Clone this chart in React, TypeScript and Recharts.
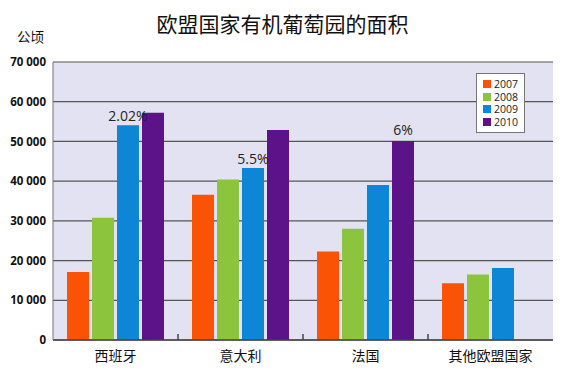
import { BarChart, Bar, XAxis, YAxis, CartesianGrid, Legend, LabelList } from 'recharts';

const countries = ['西班牙', '意大利', '法国', '其他欧盟国家'];
const y2007 = [17100, 36600, 22300, 14300];
const y2008 = [30800, 40400, 28000, 16500];
const y2009 = [54100, 43300, 39000, 18100];
const y2010 = [57200, 52900, 50100, null];
const growth2009 = ['2.02%', '5.5%', '', ''];
const growth2010 = ['', '', '6%', ''];
const yTicks = [0, 10000, 20000, 30000, 40000, 50000, 60000, 70000];

const years = [
  { key: 'y2007', name: '2007', color: '#FA5305' },
  { key: 'y2008', name: '2008', color: '#8CC43E' },
  { key: 'y2009', name: '2009', color: '#0C86D5' },
  { key: 'y2010', name: '2010', color: '#5C1289' },
];

const data = countries.map((c, i) => ({
  country: c,
  y2007: y2007[i],
  y2008: y2008[i],
  y2009: y2009[i],
  y2010: y2010[i],
  g2009: growth2009[i],
  g2010: growth2010[i],
}));

const cjk = '"Noto Sans CJK SC", "Noto Sans", sans-serif';
const latin = '"Open Sans", "Noto Sans", sans-serif';

const fmt = (v: number) => (v === 0 ? '0' : v.toLocaleString('en-US').replace(',', ' '));

const CountryTick = ({ x, y, payload, index }: any) => {
  const half = payload.offset || 0;
  return (
    <g>
      {index > 0 && <line x1={x - half} x2={x - half} y1={y - 14} y2={y - 8} stroke="#444" strokeWidth={1.5} />}
      <text x={x} y={y + 13} textAnchor="middle" fontSize={14} fill="#111" fontFamily={cjk}>
        {payload.value}
      </text>
    </g>
  );
};

const LegendBox = () => (
  <div
    style={{
      background: '#fff',
      border: '1px solid #777',
      padding: '4px 6px 4px 6px',
      fontFamily: latin,
      fontSize: 10.5,
      lineHeight: '12.5px',
      color: '#222',
    }}
  >
    {years.map((y) => (
      <div key={y.key} style={{ display: 'flex', alignItems: 'center', height: 12.5 }}>
        <span style={{ width: 8, height: 8, background: y.color, marginRight: 3, display: 'inline-block' }} />
        {y.name}
      </div>
    ))}
  </div>
);

const App = () => {
  return (
    <div style={{ position: 'absolute', left: 0, top: 0, width: 565, height: 372, background: '#fff' }}>
      <div
        style={{
          position: 'absolute',
          top: 8,
          left: 0,
          width: 565,
          textAlign: 'center',
          fontFamily: cjk,
          fontSize: 21,
          color: '#111',
        }}
      >
        欧盟国家有机葡萄园的面积
      </div>
      <div style={{ position: 'absolute', top: 26, left: 17, fontFamily: cjk, fontSize: 13.5, color: '#111' }}>公顷</div>
      <BarChart
        width={565}
        height={372}
        data={data}
        margin={{ top: 62, right: 12, bottom: 2, left: 0 }}
        barGap={3}
        barCategoryGap={14}
      >
        <CartesianGrid
          vertical={false}
          stroke="#555"
          strokeWidth={1.2}
          fill="#E3E2F3"
          fillOpacity={1}
        />
        <XAxis
          dataKey="country"
          tick={<CountryTick />}
          tickLine={false}
          axisLine={{ stroke: '#444', strokeWidth: 1.5 }}
          height={30}
          interval={0}
        />
        <YAxis
          width={53}
          domain={[0, 70000]}
          ticks={yTicks}
          tickFormatter={fmt}
          tick={{ fontSize: 11.5, fontWeight: 700, fill: '#111', fontFamily: latin }}
          tickLine={false}
          axisLine={{ stroke: '#777' }}
          tickMargin={1}
        />
        <YAxis yAxisId="r" orientation="right" width={0} tick={false} tickLine={false} axisLine={{ stroke: '#777' }} />
        <Legend
          layout="vertical"
          verticalAlign="middle"
          align="center"
          content={<LegendBox />}
          wrapperStyle={{ position: 'absolute', left: 476, top: 73, width: 'auto' }}
        />
        {years.map((y) => (
          <Bar key={y.key} dataKey={y.key} name={y.name} fill={y.color} isAnimationActive={false}>
            {y.key === 'y2009' && (
              <LabelList dataKey="g2009" position="top" offset={4} fontSize={14} fill="#222" fontFamily={latin} />
            )}
            {y.key === 'y2010' && (
              <LabelList dataKey="g2010" position="top" offset={6} fontSize={14} fill="#222" fontFamily={latin} />
            )}
          </Bar>
        ))}
      </BarChart>
    </div>
  );
};

export default App;
